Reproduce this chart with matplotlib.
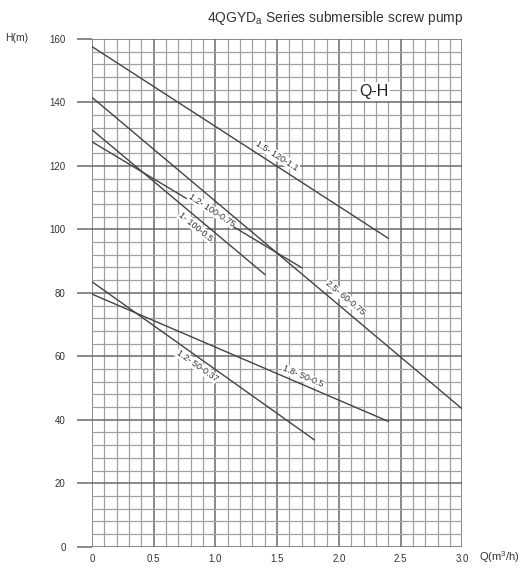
import matplotlib
matplotlib.use('Agg')
import matplotlib.pyplot as plt
import numpy as np

plt.rcParams['font.family'] = ['Liberation Sans', 'DejaVu Sans']

# curve data: (Q start, H start), (Q end, H end)
names = ['1.5- 120-1.1', '1.2- 100-0.75', '1- 100-0.5', '2.5- 60-0.75', '1.2- 50-0.37', '1.8- 50-0.5']
q_start = [0, 0, 0, 0, 0, 0]
h_start = [157.6, 127.6, 131.4, 141.6, 83.5, 79.6]
q_end = [2.4, 1.7, 1.4, 3.0, 1.8, 2.4]
h_end = [97.2, 87.9, 85.8, 43.4, 33.7, 39.5]

# label anchor (Q, H) and rotation for each curve
label_q = [1.50, 0.97, 0.84, 2.05, 0.85, 1.71]
label_h = [123.2, 106.0, 100.8, 78.5, 57.0, 53.6]
label_rot = [-32.5, -33, -39, -40, -35, -23]

x_ticks = [0, 0.5, 1.0, 1.5, 2.0, 2.5, 3.0]
x_tick_labels = ['0', '0.5', '1.0', '1.5', '2.0', '2.5', '3.0']
y_ticks = [0, 20, 40, 60, 80, 100, 120, 140, 160]

fig = plt.figure(figsize=(5.19, 5.80), dpi=100)
ax = fig.add_axes([92/519, 33.3/580, 370.3/519, 507.7/580])
ax.set_xlim(0, 3.0)
ax.set_ylim(0, 160)

# grid
for q in np.arange(0, 3.0001, 0.1):
    major = abs(q*2 - round(q*2)) < 1e-6
    ax.axvline(q, color='#6a6a6a' if major else '#a0a0a0', lw=1.1 if major else 0.9, zorder=1)
for h in np.arange(0, 160.001, 4):
    major = abs(h % 20) < 1e-6
    ax.axhline(h, color='#6a6a6a' if major else '#a0a0a0', lw=1.1 if major else 0.9, zorder=1)

for sp in ax.spines.values():
    sp.set_visible(False)

ax.set_xticks(x_ticks)
ax.set_xticklabels(x_tick_labels)
ax.set_yticks(y_ticks)
ax.tick_params(axis='y', length=11, width=1.1, color='#6a6a6a', pad=8, labelsize=7, labelcolor='#333333')
ax.tick_params(axis='x', length=0, pad=5, labelsize=7, labelcolor='#333333')

# curves
for i in range(len(names)):
    ax.plot([q_start[i], q_end[i]], [h_start[i], h_end[i]], color='#444444', lw=1.0, zorder=3)
    ax.text(label_q[i], label_h[i], names[i], rotation=label_rot[i], rotation_mode='anchor',
            ha='center', va='center', fontsize=6.5, color='#333333', zorder=4,
            bbox=dict(facecolor='white', edgecolor='none', pad=0.3))

ax.text(2.28, 143.5, 'Q-H', fontsize=11.5, ha='center', va='center', color='#222222', zorder=4,
        bbox=dict(facecolor='white', edgecolor='none', pad=1.5))

fig.text(463/519, 1 - 18/580, r'4QGYD$\mathregular{_a}$ Series submersible screw pump',
         ha='right', va='center', fontsize=10, color='#333333')
fig.text(5/519, 1 - 38/580, 'H(m)', ha='left', va='center', fontsize=7.5, color='#333333')
fig.text(479/519, 1 - 557/580, r'Q(m$\mathregular{^3}$/h)', ha='left', va='center', fontsize=8, color='#333333')

fig.savefig('out.png', dpi=100)
